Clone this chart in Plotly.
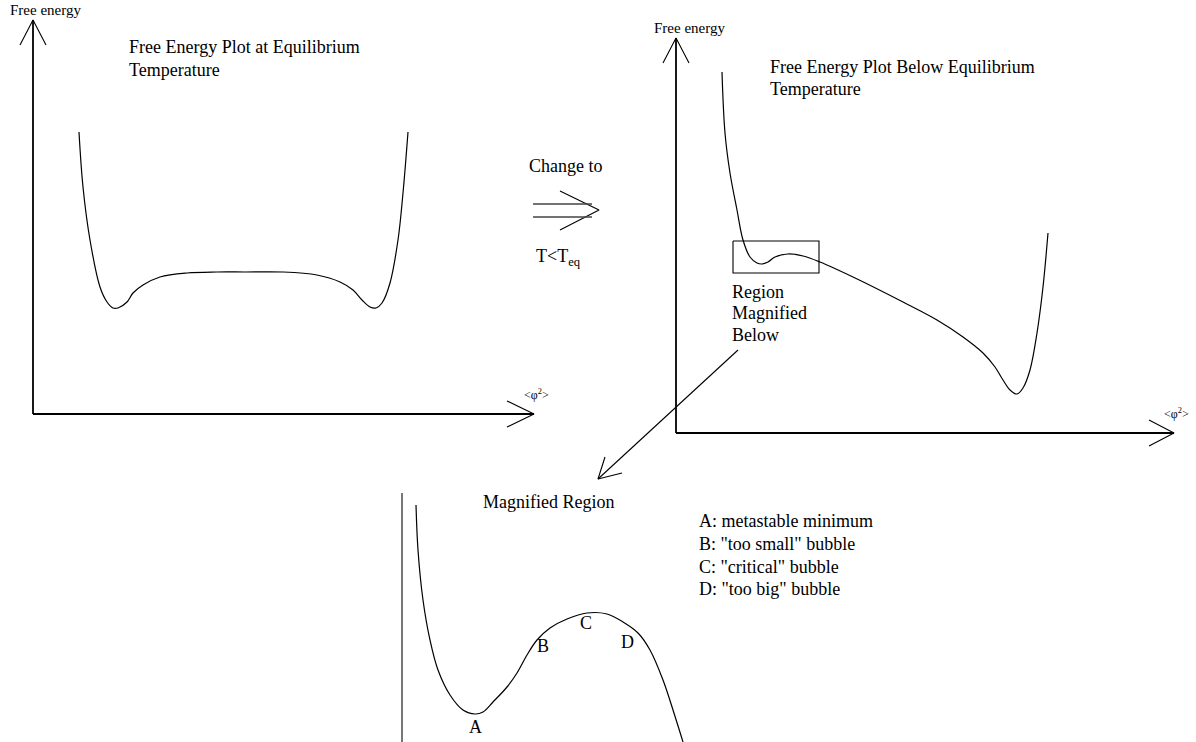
import plotly.graph_objects as go

W, H = 1196, 742

# ---- top-left panel: free energy at equilibrium (pixel-space diagram coords)
eq_x = [79, 83, 90, 100, 107, 113, 118, 127, 133, 143, 160, 187, 217, 245, 283, 317, 340, 353, 362, 370, 376, 382, 390, 398, 403, 408]
eq_y = [132, 187, 240, 287, 302, 308, 308, 302, 293, 285, 277, 273, 272, 272, 272, 275, 282, 290, 300, 307, 308, 303, 283, 240, 193, 132]

# ---- top-right panel: free energy below equilibrium
below_x = [722, 725, 730, 737, 743, 750, 757, 762, 768, 775, 788, 803, 820, 853, 903, 937, 963, 983, 995, 1003, 1010, 1017, 1023, 1030, 1037, 1043, 1048]
below_y = [72, 133, 173, 210, 240, 257, 263, 264, 262, 257, 254, 256, 262, 277, 302, 320, 337, 353, 367, 380, 390, 394, 388, 370, 333, 287, 233]

# ---- bottom panel: magnified region
mag_x = [416, 418, 423, 430, 438, 450, 463, 475, 483, 493, 507, 517, 527, 537, 550, 567, 587, 607, 623, 638, 650, 663, 673, 683]
mag_y = [505, 550, 600, 640, 670, 695, 710, 714, 712, 702, 687, 673, 655, 640, 628, 619, 613, 614, 622, 633, 650, 680, 710, 742]

# ---- axes with arrowheads (polylines)
left_yaxis_x = [33, 33]; left_yaxis_y = [20, 414]
left_yhead_x = [20, 33, 46]; left_yhead_y = [45, 20, 45]
left_xaxis_x = [33, 534]; left_xaxis_y = [414, 414]
left_xhead_x = [507, 534, 507]; left_xhead_y = [401, 414, 427]

right_yaxis_x = [676, 676]; right_yaxis_y = [38, 433]
right_yhead_x = [663, 676, 689]; right_yhead_y = [63, 38, 63]
right_xaxis_x = [676, 1174]; right_xaxis_y = [433, 433]
right_xhead_x = [1149, 1174, 1149]; right_xhead_y = [420, 433, 446]

mag_axis_x = [402, 402]; mag_axis_y = [493, 742]

# ---- "change to" double arrow
chg_l1_x = [533, 592]; chg_l1_y = [204, 204]
chg_l2_x = [533, 592]; chg_l2_y = [217, 217]
chg_head_x = [560, 599, 560]; chg_head_y = [191, 210, 230]

# ---- magnifier rectangle and pointer arrow
rect_x = [733, 819, 819, 733, 733]; rect_y = [241, 241, 273, 273, 241]
ptr_x = [738, 598]; ptr_y = [350, 479]
ptr_head_x = [605, 598, 622]; ptr_head_y = [457, 479, 473]

fig = go.Figure()

def line(xs, ys, w=1.0, color="black", shape="linear"):
    fig.add_trace(go.Scatter(x=xs, y=ys, mode="lines",
                             line=dict(color=color, width=w, shape=shape, smoothing=1.0),
                             hoverinfo="skip", showlegend=False))

line(eq_x, eq_y, 1.2, shape="spline")
line(below_x, below_y, 1.2, shape="spline")
line(mag_x, mag_y, 1.2, shape="spline")

for xs, ys in [(left_yaxis_x, left_yaxis_y), (left_xaxis_x, left_xaxis_y),
               (right_yaxis_x, right_yaxis_y), (right_xaxis_x, right_xaxis_y)]:
    line(xs, ys, 1.8)
for xs, ys in [(left_yhead_x, left_yhead_y), (left_xhead_x, left_xhead_y),
               (right_yhead_x, right_yhead_y), (right_xhead_x, right_xhead_y),
               (chg_head_x, chg_head_y), (rect_x, rect_y), (ptr_x, ptr_y),
               (ptr_head_x, ptr_head_y)]:
    line(xs, ys, 1.1)
line(chg_l1_x, chg_l1_y, 1.4, color="#444")
line(chg_l2_x, chg_l2_y, 1.4, color="#444")
line(mag_axis_x, mag_axis_y, 1.6, color="#555")

SERIF = "Liberation Serif, Times New Roman, serif"

def text(x, y, s, size=18, anchor="left"):
    fig.add_annotation(x=x, y=y, xref="x", yref="y", text=s, showarrow=False,
                       xanchor=anchor, yanchor="middle",
                       font=dict(family=SERIF, size=size, color="black"))

PHI = "&lt;φ<sup>2</sup>&gt;"

text(8, 10, "Free energy", 15)
text(652, 28, "Free energy", 15)
text(127, 47, "Free Energy Plot at Equilibrium")
text(127, 70, "Temperature")
text(768, 67, "Free Energy Plot Below Equilibrium")
text(768, 89, "Temperature")
text(522, 394, PHI, 12)
text(1162, 413, PHI, 12)
text(527, 166, "Change to")
text(534, 257, "T&lt;T<sub>eq</sub>")
text(730, 292, "Region")
text(730, 313, "Magnified")
text(730, 335, "Below")
text(481, 502, "Magnified Region")
text(697, 521, "A: metastable minimum")
text(697, 544, "B: \"too small\" bubble")
text(697, 567, "C: \"critical\" bubble")
text(697, 589, "D: \"too big\" bubble")
text(475, 727, "A", anchor="center")
text(543, 646, "B", anchor="center")
text(586, 623, "C", anchor="center")
text(627, 642, "D", anchor="center")

fig.update_layout(
    width=W, height=H,
    margin=dict(l=0, r=0, t=0, b=0),
    paper_bgcolor="white", plot_bgcolor="white",
    xaxis=dict(range=[0, W], visible=False, fixedrange=True),
    yaxis=dict(range=[H, 0], visible=False, fixedrange=True),
    showlegend=False,
)

fig.write_html("out.html", config={"displayModeBar": False},
               post_script="document.body.style.margin='0';document.body.style.overflow='hidden';")
